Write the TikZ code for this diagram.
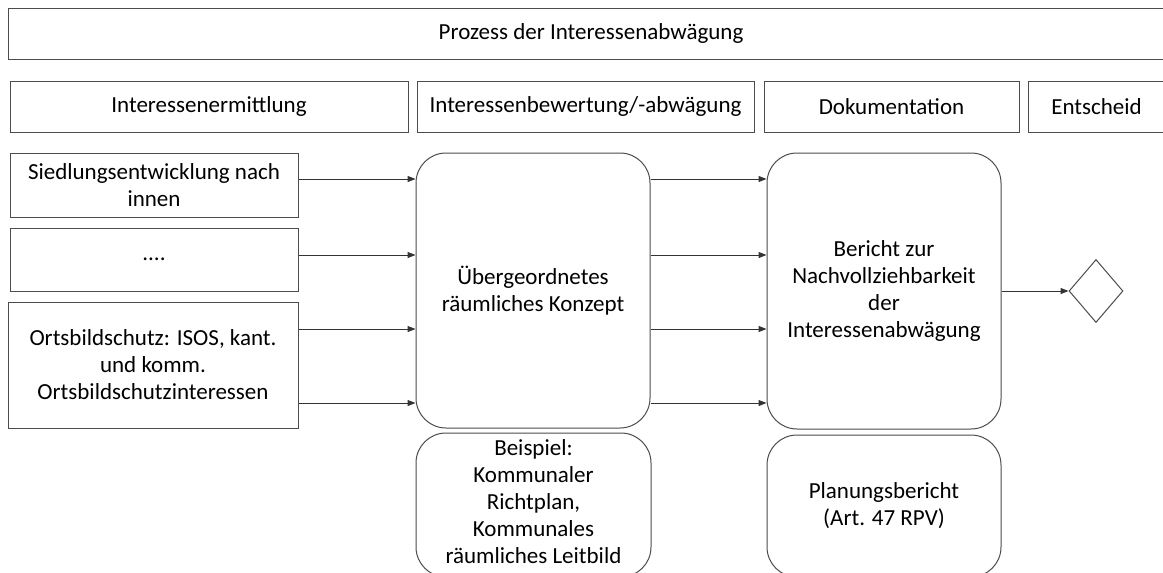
\documentclass[tikz,border=0pt]{standalone}
\usepackage{fontspec}
\setmainfont{Carlito}
\usetikzlibrary{arrows.meta,shapes.geometric}
\begin{document}
\begin{tikzpicture}[x=1pt,y=-1pt,
  box/.style={draw=black!70, line width=1pt, rectangle, inner sep=0pt, align=center,
    text=black, font=\fontsize{23}{27}\selectfont},
  rbox/.style={box, rounded corners=30pt},
  arr/.style={draw=black!80, line width=1pt, -{Triangle[length=8pt,width=6pt]}}
]
\useasboundingbox (0,0) rectangle (1163,573);
\fill[white] (0,0) rectangle (1163,573);

% header
\node[box, minimum width=1166pt, minimum height=51pt] (top) at (591,33.5) {Prozess der Interessenabwägung};
\node[box, minimum width=398pt, minimum height=51pt] (r1) at (209,106.5) {Interessenermittlung};
\node[box, minimum width=337pt, minimum height=51pt] (r2) at (585.5,106.5) {Interessenbewertung/-abwägung};
\node[box, minimum width=255pt, minimum height=51pt] (r3) at (891.5,106.5) {Dokumentation};
\node[box, minimum width=137pt, minimum height=51pt] (r4) at (1096.5,106.5) {Entscheid};

% left column
\node[box, minimum width=288pt, minimum height=64pt] (b1) at (154,185) {Siedlungsentwicklung nach\\innen};
\node[box, minimum width=288pt, minimum height=63pt] (b2) at (154,259.5) {....};
\node[box, minimum width=290pt, minimum height=126pt] (b3) at (153,365) {Ortsbildschutz: ISOS, kant.\\und komm.\\Ortsbildschutzinteressen};

% big rounded boxes
\node[rbox, minimum width=234pt, minimum height=275pt] (k1) at (533,290.5) {Übergeordnetes\\räumliches Konzept};
\node[rbox, minimum width=234pt, minimum height=276pt] (k2) at (884,291) {Bericht zur\\Nachvollziehbarkeit\\der\\Interessenabwägung};

% lower rounded boxes
\node[rbox, minimum width=235pt, minimum height=144pt] (l1) at (533.5,505) {};
\node[font=\fontsize{23}{27}\selectfont, align=center, inner sep=0pt] (l1t) at (533.5,502) {Beispiel:\\Kommunaler\\Richtplan,\\Kommunales\\räumliches Leitbild};
\node[rbox, minimum width=234pt, minimum height=142pt] (l2) at (884,506) {Planungsbericht\\(Art. 47 RPV)};

% decision diamond
\node[draw=black!70, line width=1pt, diamond, inner sep=0pt, minimum width=54pt, minimum height=63pt] (d) at (1096,291) {};

% connectors
\draw[arr] (b1.east |- 0,179) -- (k1.west |- 0,179);
\draw[arr] (b2.east |- 0,255) -- (k1.west |- 0,255);
\draw[arr] (b3.east |- 0,329) -- (k1.west |- 0,329);
\draw[arr] (b3.east |- 0,403) -- (k1.west |- 0,403);

\draw[arr] (k1.east |- 0,179) -- (k2.west |- 0,179);
\draw[arr] (k1.east |- 0,255) -- (k2.west |- 0,255);
\draw[arr] (k1.east |- 0,329) -- (k2.west |- 0,329);
\draw[arr] (k1.east |- 0,403) -- (k2.west |- 0,403);

\draw[arr] (k2.east |- d.west) -- (d.west);
\end{tikzpicture}
\end{document}
